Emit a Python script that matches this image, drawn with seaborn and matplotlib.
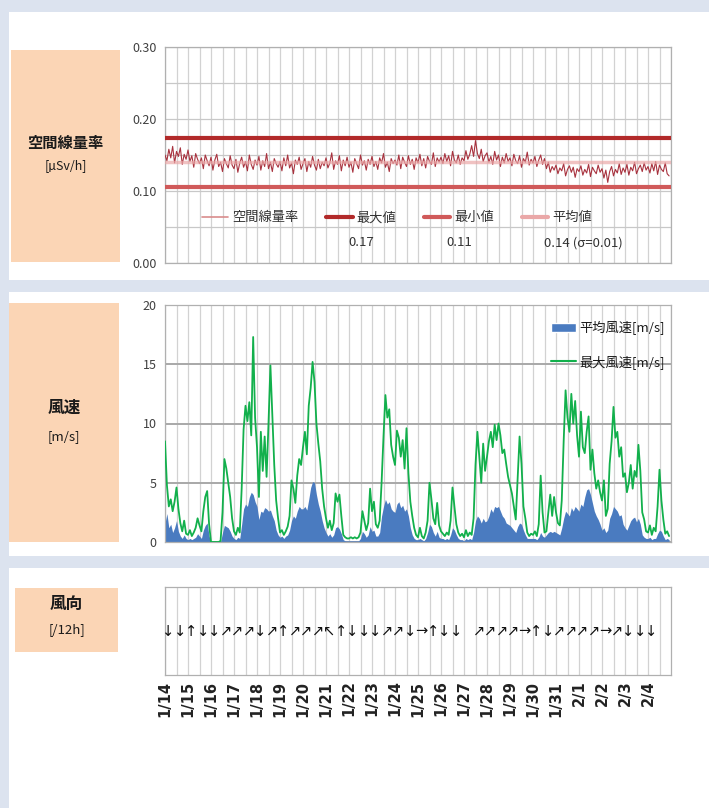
import numpy as np
import pandas as pd
import matplotlib
matplotlib.use('Agg')
import matplotlib.pyplot as plt
import seaborn as sns
from matplotlib.patches import Rectangle, Patch
from matplotlib.lines import Line2D
from matplotlib.ticker import MultipleLocator

# 日付ラベル (1日ごと)
days = ['1/14', '1/15', '1/16', '1/17', '1/18', '1/19', '1/20', '1/21', '1/22', '1/23', '1/24',
        '1/25', '1/26', '1/27', '1/28', '1/29', '1/30', '1/31', '2/1', '2/2', '2/3', '2/4']

# 空間線量率 [µSv/h] 2時間ごと (1行 = 1日)
rad = [
    0.150, 0.142, 0.158, 0.146, 0.162, 0.139, 0.155, 0.148, 0.160, 0.137, 0.151, 0.144,
    0.157, 0.141, 0.149, 0.133, 0.152, 0.144, 0.138, 0.146, 0.131, 0.150, 0.142, 0.135,
    0.147, 0.129, 0.143, 0.151, 0.134, 0.140, 0.127, 0.145, 0.138, 0.132, 0.149, 0.136,
    0.131, 0.144, 0.126, 0.139, 0.147, 0.133, 0.141, 0.128, 0.150, 0.137, 0.130, 0.143,
    0.136, 0.148, 0.129, 0.142, 0.134, 0.152, 0.131, 0.140, 0.127, 0.145, 0.138, 0.133,
    0.141, 0.128, 0.146, 0.135, 0.150, 0.132, 0.139, 0.124, 0.143, 0.137, 0.147, 0.130,
    0.138, 0.145, 0.127, 0.141, 0.133, 0.148, 0.136, 0.129, 0.144, 0.131, 0.140, 0.135,
    0.146, 0.132, 0.139, 0.153, 0.130, 0.142, 0.137, 0.149, 0.128, 0.143, 0.135, 0.147,
    0.133, 0.140, 0.126, 0.145, 0.138, 0.131, 0.150, 0.136, 0.142, 0.129, 0.144, 0.137,
    0.148, 0.134, 0.141, 0.130, 0.146, 0.139, 0.152, 0.133, 0.140, 0.127, 0.145, 0.138,
    0.143, 0.136, 0.150, 0.131, 0.147, 0.140, 0.134, 0.149, 0.137, 0.144, 0.130, 0.146,
    0.139, 0.151, 0.135, 0.145, 0.132, 0.148, 0.141, 0.137, 0.153, 0.134, 0.146, 0.140,
    0.147, 0.138, 0.152, 0.141, 0.149, 0.135, 0.155, 0.143, 0.139, 0.150, 0.137, 0.146,
    0.142, 0.156, 0.144, 0.151, 0.163, 0.148, 0.170, 0.152, 0.145, 0.158, 0.141, 0.149,
    0.153, 0.140, 0.148, 0.137, 0.155, 0.143, 0.150, 0.134, 0.147, 0.139, 0.152, 0.141,
    0.146, 0.135, 0.151, 0.142, 0.138, 0.149, 0.133, 0.145, 0.140, 0.154, 0.136, 0.144,
    0.139, 0.148, 0.134, 0.143, 0.150, 0.137, 0.145, 0.131, 0.140, 0.126, 0.134, 0.129,
    0.136, 0.124, 0.132, 0.128, 0.138, 0.121, 0.130, 0.135, 0.126, 0.133, 0.119, 0.131,
    0.127, 0.135, 0.122, 0.130, 0.125, 0.137, 0.120, 0.133, 0.128, 0.124, 0.136, 0.126,
    0.131, 0.118, 0.129, 0.112, 0.127, 0.134, 0.121, 0.130, 0.125, 0.138, 0.123, 0.132,
    0.126, 0.137, 0.122, 0.133, 0.128, 0.140, 0.124, 0.131, 0.136, 0.127, 0.139, 0.129,
    0.134, 0.125, 0.138, 0.128, 0.141, 0.123, 0.136, 0.130, 0.127, 0.139, 0.124, 0.121,
]
rad_max = 0.174
rad_min = 0.106
rad_avg = 0.140
rad_sd = 0.01

# 最大風速 [m/s] 2時間ごと
wind_max = [
    8.5, 4.8, 3.0, 3.6, 2.6, 3.4, 4.6, 2.8, 1.6, 0.9, 1.8, 0.7,
    0.6, 1.0, 0.5, 0.8, 1.2, 2.0, 1.4, 0.9, 2.6, 3.8, 4.3, 1.5,
    0.0, 0.0, 0.0, 0.0, 0.0, 0.1, 2.5, 7.0, 6.2, 5.0, 3.8, 2.0,
    0.9, 0.6, 1.2, 0.8, 4.5, 9.5, 11.5, 10.2, 11.8, 9.0, 17.3, 10.5,
    8.0, 3.8, 9.3, 6.0, 8.9, 5.5, 10.0, 14.9, 10.8, 6.5, 3.5, 2.0,
    0.8, 1.0, 0.6, 0.9, 1.3, 2.2, 5.2, 4.5, 3.3, 5.6, 7.0, 6.5,
    8.0, 9.3, 7.4, 11.5, 13.0, 15.2, 13.5, 10.0, 8.3, 6.8, 4.5, 3.0,
    2.0, 1.2, 1.8, 1.0, 1.6, 4.1, 3.4, 4.0, 2.2, 0.6, 0.4, 0.3,
    0.3, 0.4, 0.3, 0.4, 0.3, 0.4, 0.8, 2.6, 1.8, 1.0, 1.6, 4.5,
    2.6, 3.4, 1.5, 1.2, 1.8, 5.0, 8.9, 12.4, 10.5, 11.2, 8.2, 7.2,
    6.5, 9.4, 8.8, 7.2, 8.6, 6.2, 9.6, 5.8, 3.4, 2.2, 1.2, 0.6,
    0.4, 1.2, 0.5, 0.3, 0.8, 1.8, 5.0, 3.6, 2.0, 1.5, 3.3, 1.4,
    0.9, 0.7, 0.5, 0.8, 0.6, 1.8, 4.6, 3.0, 1.5, 0.8, 0.5, 0.7,
    0.4, 1.0, 0.5, 0.8, 0.6, 2.0, 6.5, 9.3, 7.2, 5.0, 8.3, 6.0,
    7.2, 8.5, 9.3, 8.0, 9.9, 8.6, 10.0, 9.0, 7.5, 7.8, 6.6, 5.5,
    4.8, 4.1, 3.0, 1.9, 5.5, 8.9, 6.6, 3.0, 2.0, 0.8, 0.5, 0.7,
    0.6, 0.9, 0.5, 1.5, 5.6, 2.5, 0.8, 0.9, 2.5, 4.0, 2.2, 3.8,
    2.5, 1.6, 1.4, 3.5, 8.5, 12.8, 10.5, 9.3, 12.5, 10.0, 11.9, 9.0,
    7.2, 11.0, 8.0, 7.5, 9.3, 10.6, 6.1, 7.8, 5.8, 4.5, 5.2, 4.2,
    3.5, 5.2, 2.2, 2.8, 6.6, 8.5, 11.4, 8.8, 9.3, 7.2, 8.0, 5.5,
    5.8, 4.2, 5.0, 6.5, 4.5, 6.0, 5.5, 8.2, 6.0, 2.5, 1.9, 0.9,
    0.8, 1.4, 0.6, 1.2, 0.9, 3.0, 6.1, 3.5, 1.9, 0.7, 0.9, 0.5,
]

# 平均風速 [m/s] 2時間ごと
wind_avg = [
    1.6, 2.4, 1.2, 1.5, 0.8, 1.2, 1.8, 0.9, 0.5, 0.3, 0.6, 0.3,
    0.2, 0.3, 0.2, 0.3, 0.4, 0.7, 0.5, 0.3, 1.0, 1.4, 1.6, 0.5,
    0.0, 0.0, 0.0, 0.0, 0.0, 0.0, 0.8, 1.4, 1.3, 1.2, 0.9, 0.5,
    0.3, 0.2, 0.4, 0.3, 1.5, 2.8, 3.2, 3.0, 3.8, 4.2, 4.0, 3.4,
    3.0, 1.9, 2.6, 2.5, 2.9, 2.8, 2.6, 2.7, 2.2, 1.8, 1.0, 0.6,
    0.4, 0.5, 0.3, 0.5, 0.6, 1.0, 1.8, 2.2, 2.0, 2.6, 3.0, 2.8,
    2.8, 3.0, 2.7, 3.6, 4.6, 5.1, 5.0, 4.0, 3.2, 2.6, 1.8, 1.2,
    0.8, 0.5, 0.7, 0.4, 0.6, 1.2, 1.3, 1.1, 0.7, 0.2, 0.1, 0.1,
    0.1, 0.1, 0.1, 0.1, 0.1, 0.1, 0.3, 0.9, 0.7, 0.4, 0.6, 1.3,
    0.9, 1.0, 0.5, 0.5, 0.8, 2.2, 3.0, 3.6, 3.2, 3.4, 2.8, 2.6,
    2.5, 3.2, 3.4, 2.9, 3.1, 2.6, 2.8, 2.2, 1.2, 0.6, 0.3, 0.2,
    0.2, 0.3, 0.2, 0.1, 0.3, 0.8, 1.5, 1.3, 0.8, 0.5, 0.9, 0.4,
    0.3, 0.3, 0.2, 0.3, 0.2, 0.6, 1.2, 1.0, 0.6, 0.3, 0.2, 0.2,
    0.1, 0.3, 0.2, 0.3, 0.2, 0.8, 1.8, 2.2, 2.0, 1.6, 2.0, 1.7,
    1.8, 2.2, 2.8, 2.5, 3.0, 2.9, 3.0, 2.6, 2.2, 2.0, 1.6, 1.5,
    1.4, 1.2, 1.0, 0.8, 1.3, 1.6, 1.5, 1.0, 0.6, 0.3, 0.3, 0.3,
    0.3, 0.3, 0.2, 0.4, 0.8, 0.5, 0.4, 0.6, 0.8, 0.9, 0.8, 0.9,
    0.8, 0.7, 0.6, 1.2, 2.0, 2.6, 2.4, 2.2, 2.9, 2.6, 3.0, 2.8,
    2.6, 3.2, 3.0, 3.8, 4.4, 4.5, 4.0, 3.3, 2.6, 2.2, 1.9, 1.5,
    1.0, 1.2, 0.8, 1.0, 2.0, 2.4, 3.0, 2.8, 2.6, 2.2, 2.3, 1.5,
    1.2, 1.0, 1.4, 1.8, 2.0, 2.1, 1.7, 2.0, 1.5, 0.6, 0.4, 0.3,
    0.3, 0.4, 0.2, 0.3, 0.3, 0.7, 1.0, 0.9, 0.5, 0.2, 0.3, 0.2,
]

# 風向 (12時間ごと, 空欄 = None)
wind_dir = ['↓', '↓', '↑', '↓', '↓', '↗', '↗', '↗', '↓', '↗', '↑', '↗', '↗', '↗', '↖', '↑',
            '↓', '↓', '↓', '↗', '↗', '↓', '→', '↑', '↓', '↓', None, '↗', '↗', '↗', '↗', '→',
            '↑', '↓', '↗', '↗', '↗', '↗', '→', '↗', '↓', '↓', '↓', None]

sns.set_theme(style='white')
plt.rcParams['font.family'] = ['Noto Sans CJK JP', 'DejaVu Sans']

df = pd.DataFrame({'day': np.arange(len(rad)) / 12.0, 'rad': rad,
                   'wmax': wind_max, 'wavg': wind_avg})

W, H = 709, 808
fig = plt.figure(figsize=(W / 100, H / 100), dpi=100)
fig.patch.set_facecolor('#dce3ef')


def box(x0, y0, x1, y1):
    return [x0 / W, 1 - y1 / H, (x1 - x0) / W, (y1 - y0) / H]


def rect(x0, y0, x1, y1, color):
    b = box(x0, y0, x1, y1)
    fig.add_artist(Rectangle((b[0], b[1]), b[2], b[3], transform=fig.transFigure,
                             facecolor=color, edgecolor='none', zorder=-1))


# パネル背景とラベル枠
rect(9, 12, 709, 280, 'white')
rect(9, 292, 709, 556, 'white')
rect(9, 568, 709, 808, 'white')
orange = '#fbd5b5'
rect(11, 50, 120, 262, orange)
rect(9, 303, 119, 542, orange)
rect(15, 588, 118, 652, orange)

fig.text(65.5 / W, 1 - 143 / H, '空間線量率', ha='center', va='center', fontsize=11, fontweight='bold', color='#1a1a1a')
fig.text(65.5 / W, 1 - 166 / H, '[µSv/h]', ha='center', va='center', fontsize=9, color='#1a1a1a')
fig.text(64 / W, 1 - 408 / H, '風速', ha='center', va='center', fontsize=12, fontweight='bold', color='#1a1a1a')
fig.text(64 / W, 1 - 437 / H, '[m/s]', ha='center', va='center', fontsize=9.5, color='#1a1a1a')
fig.text(66.5 / W, 1 - 604 / H, '風向', ha='center', va='center', fontsize=12, fontweight='bold', color='#1a1a1a')
fig.text(66.5 / W, 1 - 630 / H, '[/12h]', ha='center', va='center', fontsize=9.5, color='#1a1a1a')

ax1 = fig.add_axes(box(165, 47, 671, 263))
ax2 = fig.add_axes(box(165, 305, 671, 542))
ax3 = fig.add_axes(box(165, 587, 671, 675))

for ax in (ax1, ax2, ax3):
    ax.set_facecolor('white')
    ax.set_xlim(0, len(days))
    ax.xaxis.set_major_locator(MultipleLocator(0.5))
    ax.grid(axis='x', color='#d2d2d2', lw=0.9)
    ax.set_axisbelow(True)
    for s in ax.spines.values():
        s.set_color('#b0b0b0')
        s.set_linewidth(0.9)
    ax.tick_params(axis='both', length=0, labelsize=9, labelcolor='#404040', pad=6)

# --- 空間線量率 ---
c_series = '#a8323e'
c_max = '#b22a2a'
c_min = '#d05a5a'
c_avg = '#eaa8a8'
sns.lineplot(data=df, x='day', y='rad', ax=ax1, color=c_series, lw=0.8, zorder=3)
ax1.axhline(rad_max, color=c_max, lw=3, zorder=4)
ax1.axhline(rad_min, color=c_min, lw=3, zorder=4)
ax1.axhline(rad_avg, color=c_avg, lw=2.5, alpha=0.7, zorder=5)
ax1.set_ylim(0, 0.3)
ax1.set_yticks([0, 0.1, 0.2, 0.3])
ax1.set_yticklabels(['0.00', '0.10', '0.20', '0.30'])
ax1.yaxis.set_minor_locator(MultipleLocator(0.05))
ax1.grid(axis='y', which='both', color='#c8c8c8', lw=0.9)
ax1.set_xticklabels([])
ax1.set_xlabel('')
ax1.set_ylabel('')

h1 = [Line2D([], [], color='#d98c8c', lw=1.2), Line2D([], [], color=c_max, lw=3),
      Line2D([], [], color=c_min, lw=3), Line2D([], [], color=c_avg, lw=3)]
leg1 = ax1.legend(h1, ['空間線量率', '最大値', '最小値', '平均値'], ncol=4, loc='upper left',
                  bbox_to_anchor=(0.06, 0.27), frameon=False, fontsize=9.5,
                  handlelength=2.0, handletextpad=0.3, columnspacing=2.1, borderpad=0)
for txt in leg1.get_texts():
    txt.set_color('#333333')

# --- 風速 ---
ax2.fill_between(df['day'], 0, df['wavg'], color='#4a7bc0', lw=0, zorder=2)
sns.lineplot(data=df, x='day', y='wmax', ax=ax2, color='#12b04c', lw=1.3, zorder=3)
ax2.set_ylim(0, 20)
ax2.set_yticks([0, 5, 10, 15, 20])
ax2.grid(axis='y', color='#a8a8a8', lw=1.4)
ax2.set_xticklabels([])
ax2.set_xlabel('')
ax2.set_ylabel('')
h2 = [Patch(facecolor='#4a7bc0'), Line2D([], [], color='#12b04c', lw=1.5)]
leg2 = ax2.legend(h2, ['平均風速[m/s]', '最大風速[m/s]'], loc='upper right',
                  bbox_to_anchor=(1.0, 0.96), frameon=False, fontsize=9.5,
                  labelspacing=1.5, handlelength=1.9, handletextpad=0.2, borderpad=0)
for txt in leg2.get_texts():
    txt.set_color('#1a1a1a')

# --- 風向 ---
ax3.set_ylim(0, 1)
ax3.set_yticks([])
for i, d in enumerate(wind_dir):
    if d:
        ax3.text(i * 0.5 + 0.14, 0.5, d, ha='center', va='center', fontsize=10.5,
                 family='DejaVu Sans', color='#111111')
ax3.set_xticks(range(len(days)))
ax3.set_xticks(np.arange(0, len(days), 0.5), minor=True)
ax3.grid(axis='x', which='both', color='#d2d2d2', lw=0.9)
ax3.set_xticklabels(days, rotation=90, fontsize=10.5, fontweight='bold',
                    family='DejaVu Sans', color='#222222')
ax3.tick_params(axis='x', pad=4)

# 凡例の下に統計値を表示
fig.canvas.draw()
inv = ax1.transAxes.inverted()
vals = [None, f'{rad_max:.2f}', f'{rad_min:.2f}', f'{rad_avg:.2f} (σ={rad_sd:.2f})']
for txt, v in zip(leg1.get_texts(), vals):
    if v:
        bb = txt.get_window_extent()
        x, y = inv.transform((bb.x0 - 8, (bb.y0 + bb.y1) / 2 - 25))
        ax1.text(x, y, v, transform=ax1.transAxes, ha='left', va='center',
                 fontsize=9.5, color='#333333')

fig.savefig('out.png', dpi=100, facecolor=fig.get_facecolor())
